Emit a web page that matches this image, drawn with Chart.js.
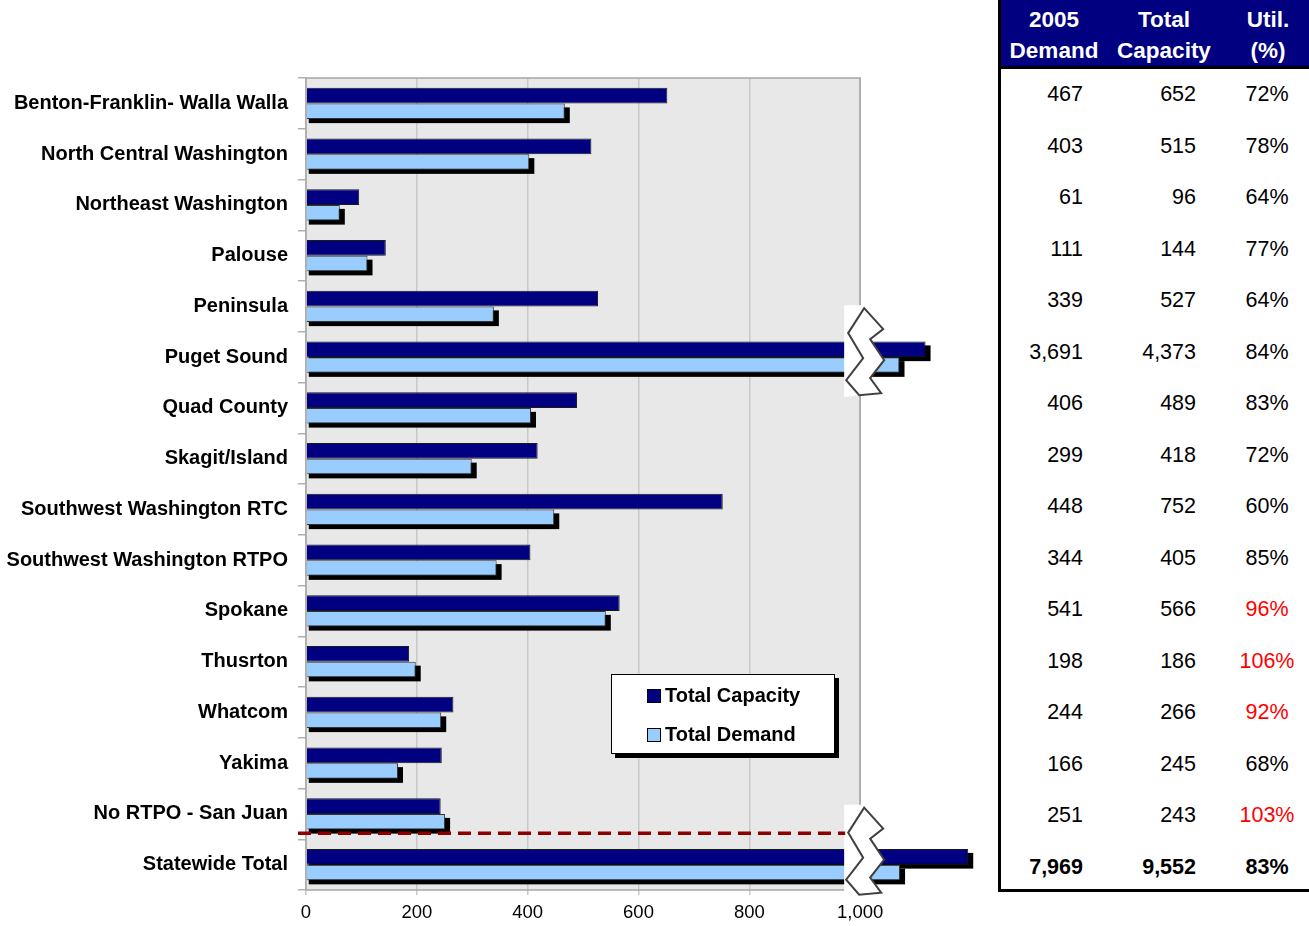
<!DOCTYPE html>
<html>
<head>
<meta charset="utf-8">
<script src="https://cdn.jsdelivr.net/npm/chart.js@4/dist/chart.umd.min.js"></script>
<style>
  html, body { margin: 0; padding: 0; background: #ffffff; }
  body { width: 1309px; height: 926px; position: relative; overflow: hidden; font-family: "Liberation Sans", Arial, sans-serif; }
  #wrap { position: absolute; left: 0; top: 0; width: 980px; height: 926px; }
  #tbl { position: absolute; left: 998px; top: 0; width: 311px; height: 889px; border-left: 3px solid #000; border-bottom: 3px solid #000; background: #fff; }
  #hdr { position: absolute; left: 0; top: 0; width: 311px; height: 66px; background: #000080; border-bottom: 3px solid #000; }
  .h { position: absolute; top: 4px; color: #fff; font-weight: bold; font-size: 22.5px; line-height: 31px; text-align: center; }
  .c { position: absolute; font-size: 21.5px; line-height: 24px; color: #000; white-space: nowrap; }
  #legend { position: absolute; left: 611px; top: 674px; width: 222px; height: 78px; background: #fff; border: 1px solid #000; box-shadow: 4px 4px 0 #000; }
  .li { position: absolute; left: 35px; font-weight: bold; font-size: 20px; line-height: 22px; white-space: nowrap; }
  .sw { display: inline-block; width: 12px; height: 12px; border: 1px solid #000; margin-right: 4px; vertical-align: -1px; }
</style>
</head>
<body>
<div id="wrap"><canvas id="c"></canvas></div>
<div id="legend"></div>
<div id="tbl"><div id="hdr"></div></div>
<script>
// ---- data ----
const regions = [
  "Benton-Franklin- Walla Walla", "North Central Washington", "Northeast Washington",
  "Palouse", "Peninsula", "Puget Sound", "Quad County", "Skagit/Island",
  "Southwest Washington RTC", "Southwest Washington RTPO", "Spokane", "Thusrton",
  "Whatcom", "Yakima", "No RTPO - San Juan", "Statewide Total"
];
const demand2005 = [467, 403, 61, 111, 339, 3691, 406, 299, 448, 344, 541, 198, 244, 166, 251, 7969];
const totalCapacity = [652, 515, 96, 144, 527, 4373, 489, 418, 752, 405, 566, 186, 266, 245, 243, 9552];
const utilization = [72, 78, 64, 77, 64, 84, 83, 72, 60, 85, 96, 106, 92, 68, 103, 83];
// bars that run past the broken axis: drawn lengths
const brokenCapacityShown = { "Puget Sound": 1118, "Statewide Total": 1195 };
const brokenDemandShown = { "Puget Sound": 1071, "Statewide Total": 1072 };
const xTicks = [0, 200, 400, 600, 800, 1000];
const axisBreakAt = 1000;
const headers = [["2005", "Demand"], ["Total", "Capacity"], ["Util.", "(%)"]];

const capacityBars = totalCapacity.map((v, i) => v > axisBreakAt ? brokenCapacityShown[regions[i]] : v);
const demandBars = demand2005.map((v, i) => v > axisBreakAt ? brokenDemandShown[regions[i]] : v);

const NAVY = "#000080", LIGHT = "#99ccff";
const FONT = "'Liberation Sans', Arial, sans-serif";
const breakTopOffset = { "Puget Sound": -52, "Statewide Total": -60 };

// ---- plugins ----
const plotBg = {
  id: "plotBg",
  beforeDraw(chart) {
    const { ctx, chartArea: a, scales: { x } } = chart;
    const r = x.getPixelForValue(axisBreakAt);
    ctx.save();
    ctx.fillStyle = "#e8e8e8";
    ctx.fillRect(a.left, a.top, r - a.left, a.bottom - a.top);
    ctx.restore();
  },
  afterDatasetsDraw(chart) {
    const { ctx, chartArea: a, scales: { x, y } } = chart;
    const r = x.getPixelForValue(axisBreakAt);
    ctx.save();
    ctx.strokeStyle = "#a6a6a6";
    ctx.lineWidth = 1.5;
    ctx.beginPath();
    ctx.moveTo(a.left, a.bottom); ctx.lineTo(a.left, a.top); ctx.lineTo(r, a.top); ctx.lineTo(r, a.bottom);
    ctx.moveTo(a.left, a.bottom); ctx.lineTo(r, a.bottom);
    ctx.stroke();
    regions.forEach((name, i) => {
      if (totalCapacity[i] <= axisBreakAt) return;
      const x0 = r - 16, y0 = y.getPixelForValue(i) + breakTopOffset[name];
      const right = [[20,3],[39,24],[26,34],[40,55],[26,73],[37,88],[15,90]];
      const left = [[2,75],[19,53],[4,28]];
      ctx.fillStyle = "#ffffff";
      ctx.beginPath();
      ctx.moveTo(x0, y0);
      ctx.lineTo(x0 + 20, y0);
      right.forEach(p => ctx.lineTo(x0 + p[0], y0 + p[1]));
      ctx.lineTo(x0, y0 + 92);
      ctx.closePath();
      ctx.fill();
      ctx.strokeStyle = "#404040";
      ctx.lineWidth = 2;
      ctx.beginPath();
      right.concat(left).forEach((p, k) => k ? ctx.lineTo(x0 + p[0], y0 + p[1]) : ctx.moveTo(x0 + p[0], y0 + p[1]));
      ctx.closePath();
      ctx.stroke();
    });
    const last = regions.length - 1;
    const yb = (y.getPixelForValue(last - 1) + y.getPixelForValue(last)) / 2 - 6;
    ctx.strokeStyle = "#8b0000";
    ctx.lineWidth = 3.5;
    ctx.setLineDash([13, 7]);
    ctx.beginPath();
    ctx.moveTo(a.left - 8, yb);
    ctx.lineTo(r - 15, yb);
    ctx.stroke();
    ctx.restore();
  }
};

const barShadow = {
  id: "barShadow",
  beforeDatasetsDraw(chart) {
    const { ctx } = chart;
    ctx.save();
    ctx.fillStyle = "#000000";
    chart.data.datasets.forEach((ds, di) => {
      chart.getDatasetMeta(di).data.forEach((el, i) => {
        if (di === 0 && totalCapacity[i] <= axisBreakAt) return;
        const h = el.height;
        ctx.fillRect(el.base + 2, el.y - h / 2 + 4, el.x - el.base + 3, h);
      });
    });
    ctx.restore();
  }
};

const chart = new Chart(document.getElementById("c"), {
  type: "bar",
  data: {
    labels: regions,
    datasets: [
      { label: "Total Capacity", data: capacityBars, backgroundColor: NAVY, borderColor: "#1a1a1a", borderWidth: 1,
        categoryPercentage: 0.62, barPercentage: 1.0 },
      { label: "Total Demand", data: demandBars, backgroundColor: LIGHT, borderColor: "#333333", borderWidth: 1,
        categoryPercentage: 0.62, barPercentage: 1.0 }
    ]
  },
  options: {
    indexAxis: "y",
    responsive: true,
    maintainAspectRatio: false,
    animation: false,
    layout: { padding: { top: 78, right: 9, left: 0, bottom: 0 } },
    plugins: { legend: { display: false }, tooltip: { enabled: false } },
    scales: {
      x: {
        min: 0, max: 1200,
        afterBuildTicks(s) { s.ticks = xTicks.map(v => ({ value: v })); },
        afterFit(s) { s.height = 36; },
        ticks: { color: "#000", font: { family: FONT, size: 18.5 }, padding: 7,
                 callback: v => v.toLocaleString("en-US") },
        grid: { color: "#c8c8c8", lineWidth: 1.5, tickLength: 5, drawTicks: true },
        border: { display: false }
      },
      y: {
        afterFit(s) { s.width = 306; },
        ticks: { color: "#000", font: { family: FONT, size: 20, weight: "bold" }, padding: 10 },
        grid: { offset: true, drawOnChartArea: false, tickLength: 8, color: "#b0b0b0", lineWidth: 1.5 },
        border: { display: false }
      }
    }
  },
  plugins: [plotBg, barShadow]
});

// ---- legend (html) ----
const legend = document.getElementById("legend");
chart.data.datasets.forEach((ds, i) => {
  const d = document.createElement("div");
  d.className = "li";
  d.style.top = (9 + i * 39) + "px";
  d.innerHTML = '<span class="sw" style="background:' + ds.backgroundColor + '"></span>' + ds.label;
  legend.appendChild(d);
});

// ---- table (html) ----
const tbl = document.getElementById("tbl"), hdr = document.getElementById("hdr");
const hCenters = [53, 163, 267];
headers.forEach((h, k) => {
  const d = document.createElement("div");
  d.className = "h";
  d.style.left = (hCenters[k] - 60) + "px";
  d.style.width = "120px";
  d.innerHTML = h[0] + "<br>" + h[1];
  hdr.appendChild(d);
});
const fmt = v => v.toLocaleString("en-US");
regions.forEach((name, i) => {
  const yc = 94 + i * 51.53;
  const isTotal = i === regions.length - 1;
  const cells = [
    { t: fmt(demand2005[i]), right: 82 },
    { t: fmt(totalCapacity[i]), right: 195 },
    { t: utilization[i] + "%", center: 266, red: !isTotal && utilization[i] > 90 }
  ];
  cells.forEach(c => {
    const d = document.createElement("div");
    d.className = "c";
    d.textContent = c.t;
    d.style.top = (yc - 12) + "px";
    if (c.right !== undefined) { d.style.left = (c.right - 100) + "px"; d.style.width = "100px"; d.style.textAlign = "right"; }
    else { d.style.left = (c.center - 50) + "px"; d.style.width = "100px"; d.style.textAlign = "center"; }
    if (c.red) d.style.color = "#ff0000";
    if (isTotal) d.style.fontWeight = "bold";
    tbl.appendChild(d);
  });
});
</script>
</body>
</html>
